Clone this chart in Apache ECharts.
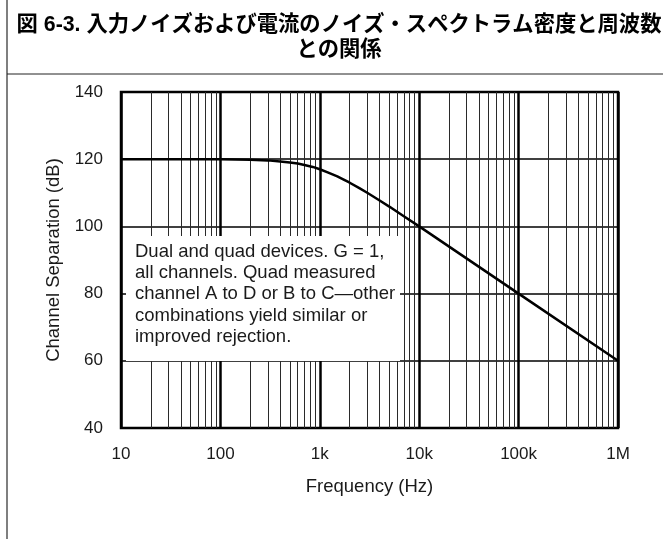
<!DOCTYPE html>
<html>
<head>
<meta charset="utf-8">
<script src="https://cdn.jsdelivr.net/npm/echarts@6/dist/echarts.min.js"></script>
<style>
html,body{margin:0;padding:0;background:#fff;}
#chart{width:663px;height:539px;}
</style>
</head>
<body>
<div id="chart"></div>
<script>
// ---- data ----
const titleLine1 = '図 6-3. 入力ノイズおよび電流のノイズ・スペクトラム密度と周波数';
const titleLine2 = 'との関係';
const freqHz = [10, 100, 200, 300, 400, 500, 600, 700, 850, 1000, 1200, 1500, 1700, 2000, 2500, 3000, 4000, 5000, 7000, 10000, 100000, 1000000];
const separationDb = [120, 120, 119.85, 119.65, 119.35, 119.05, 118.7, 118.3, 117.7, 117, 116.1, 114.9, 114.1, 113, 111.4, 110, 107.7, 105.9, 103, 100, 80, 60];
const xTickValues = [10, 100, 1000, 10000, 100000, 1000000];
const xTickLabels = ['10', '100', '1k', '10k', '100k', '1M'];
const yTicks = [40, 60, 80, 100, 120, 140];
const xAxisTitle = 'Frequency (Hz)';
const yAxisTitle = 'Channel Separation (dB)';
const noteLines = [
  'Dual and quad devices. G = 1,',
  'all channels. Quad measured',
  'channel A to D or B to C\u2014other',
  'combinations yield similar or',
  'improved rejection.'
];

// minor gridline positions (2..9 in each decade)
const minorGridHz = [];
for (let d = 0; d < xTickValues.length - 1; d++) {
  for (let m = 2; m <= 9; m++) minorGridHz.push(m * xTickValues[d]);
}

const FONT = '"Liberation Sans", Arial, sans-serif';
const chart = echarts.init(document.getElementById('chart'), null, {renderer: 'canvas'});

const labelMap = {};
xTickValues.forEach((v, i) => { labelMap[v] = xTickLabels[i]; });

chart.setOption({
  backgroundColor: '#fff',
  animation: false,
  grid: {left: 121, top: 92, width: 497, height: 336, show: true, borderColor: '#000', borderWidth: 2.5, backgroundColor: 'transparent', z: 5},
  xAxis: {
    type: 'log', logBase: 10, min: 10, max: 1000000,
    name: xAxisTitle, nameLocation: 'middle', nameGap: 49,
    nameTextStyle: {fontFamily: FONT, fontSize: 18.5, color: '#1a1a1a'},
    axisLine: {show: false}, axisTick: {show: false},
    axisLabel: {fontFamily: FONT, fontSize: 17, color: '#1a1a1a', margin: 18,
      formatter: v => labelMap[Math.round(v)] || ''},
    splitLine: {show: true, lineStyle: {color: '#000', width: 2.5}}
  },
  yAxis: {
    type: 'value', min: 40, max: 140, interval: 20,
    name: yAxisTitle, nameLocation: 'middle', nameGap: 55,
    nameTextStyle: {fontFamily: FONT, fontSize: 18.5, color: '#1a1a1a'},
    axisLine: {show: false}, axisTick: {show: false},
    axisLabel: {fontFamily: FONT, fontSize: 17, color: '#1a1a1a', margin: 18},
    splitLine: {show: true, lineStyle: {color: '#000', width: 1.5}}
  },
  series: [
    {
      type: 'line', data: [], silent: true, z: 1,
      markLine: {
        silent: true, symbol: 'none', animation: false,
        label: {show: false},
        lineStyle: {color: '#2a2a2a', width: 1, type: 'solid'},
        data: minorGridHz.map(v => ({xAxis: v}))
      }
    },
    {
      type: 'line', z: 10, smooth: false, symbol: 'none',
      lineStyle: {color: '#000', width: 2.5, join: 'round'},
      data: freqHz.map((f, i) => [f, separationDb[i]])
    }
  ],
  graphic: [
    {type: 'line', shape: {x1: 7, y1: 0, x2: 7, y2: 539}, style: {stroke: '#555', lineWidth: 1.5}, z: 100},
    {type: 'line', shape: {x1: 7, y1: 74, x2: 663, y2: 74}, style: {stroke: '#222', lineWidth: 1}, z: 100},
    {type: 'text', x: 339, y: 25, z: 100, style: {text: titleLine1, fontFamily: '"Liberation Sans", "Noto Sans CJK JP", sans-serif', fontWeight: 'bold', fontSize: 21.3, fill: '#000', align: 'center', verticalAlign: 'middle'}},
    {type: 'text', x: 339, y: 50, z: 100, style: {text: titleLine2, fontFamily: '"Liberation Sans", "Noto Sans CJK JP", sans-serif', fontWeight: 'bold', fontSize: 21.3, fill: '#000', align: 'center', verticalAlign: 'middle'}},
    {type: 'rect', shape: {x: 126, y: 236, width: 274, height: 125}, style: {fill: '#fff'}, z: 50},
    {type: 'text', x: 135, y: 241, z: 51, style: {text: noteLines.join('\n'), fontFamily: FONT, fontSize: 18.5, lineHeight: 21.3, fill: '#1a1a1a', align: 'left', verticalAlign: 'top'}}
  ]
});
</script>
</body>
</html>
